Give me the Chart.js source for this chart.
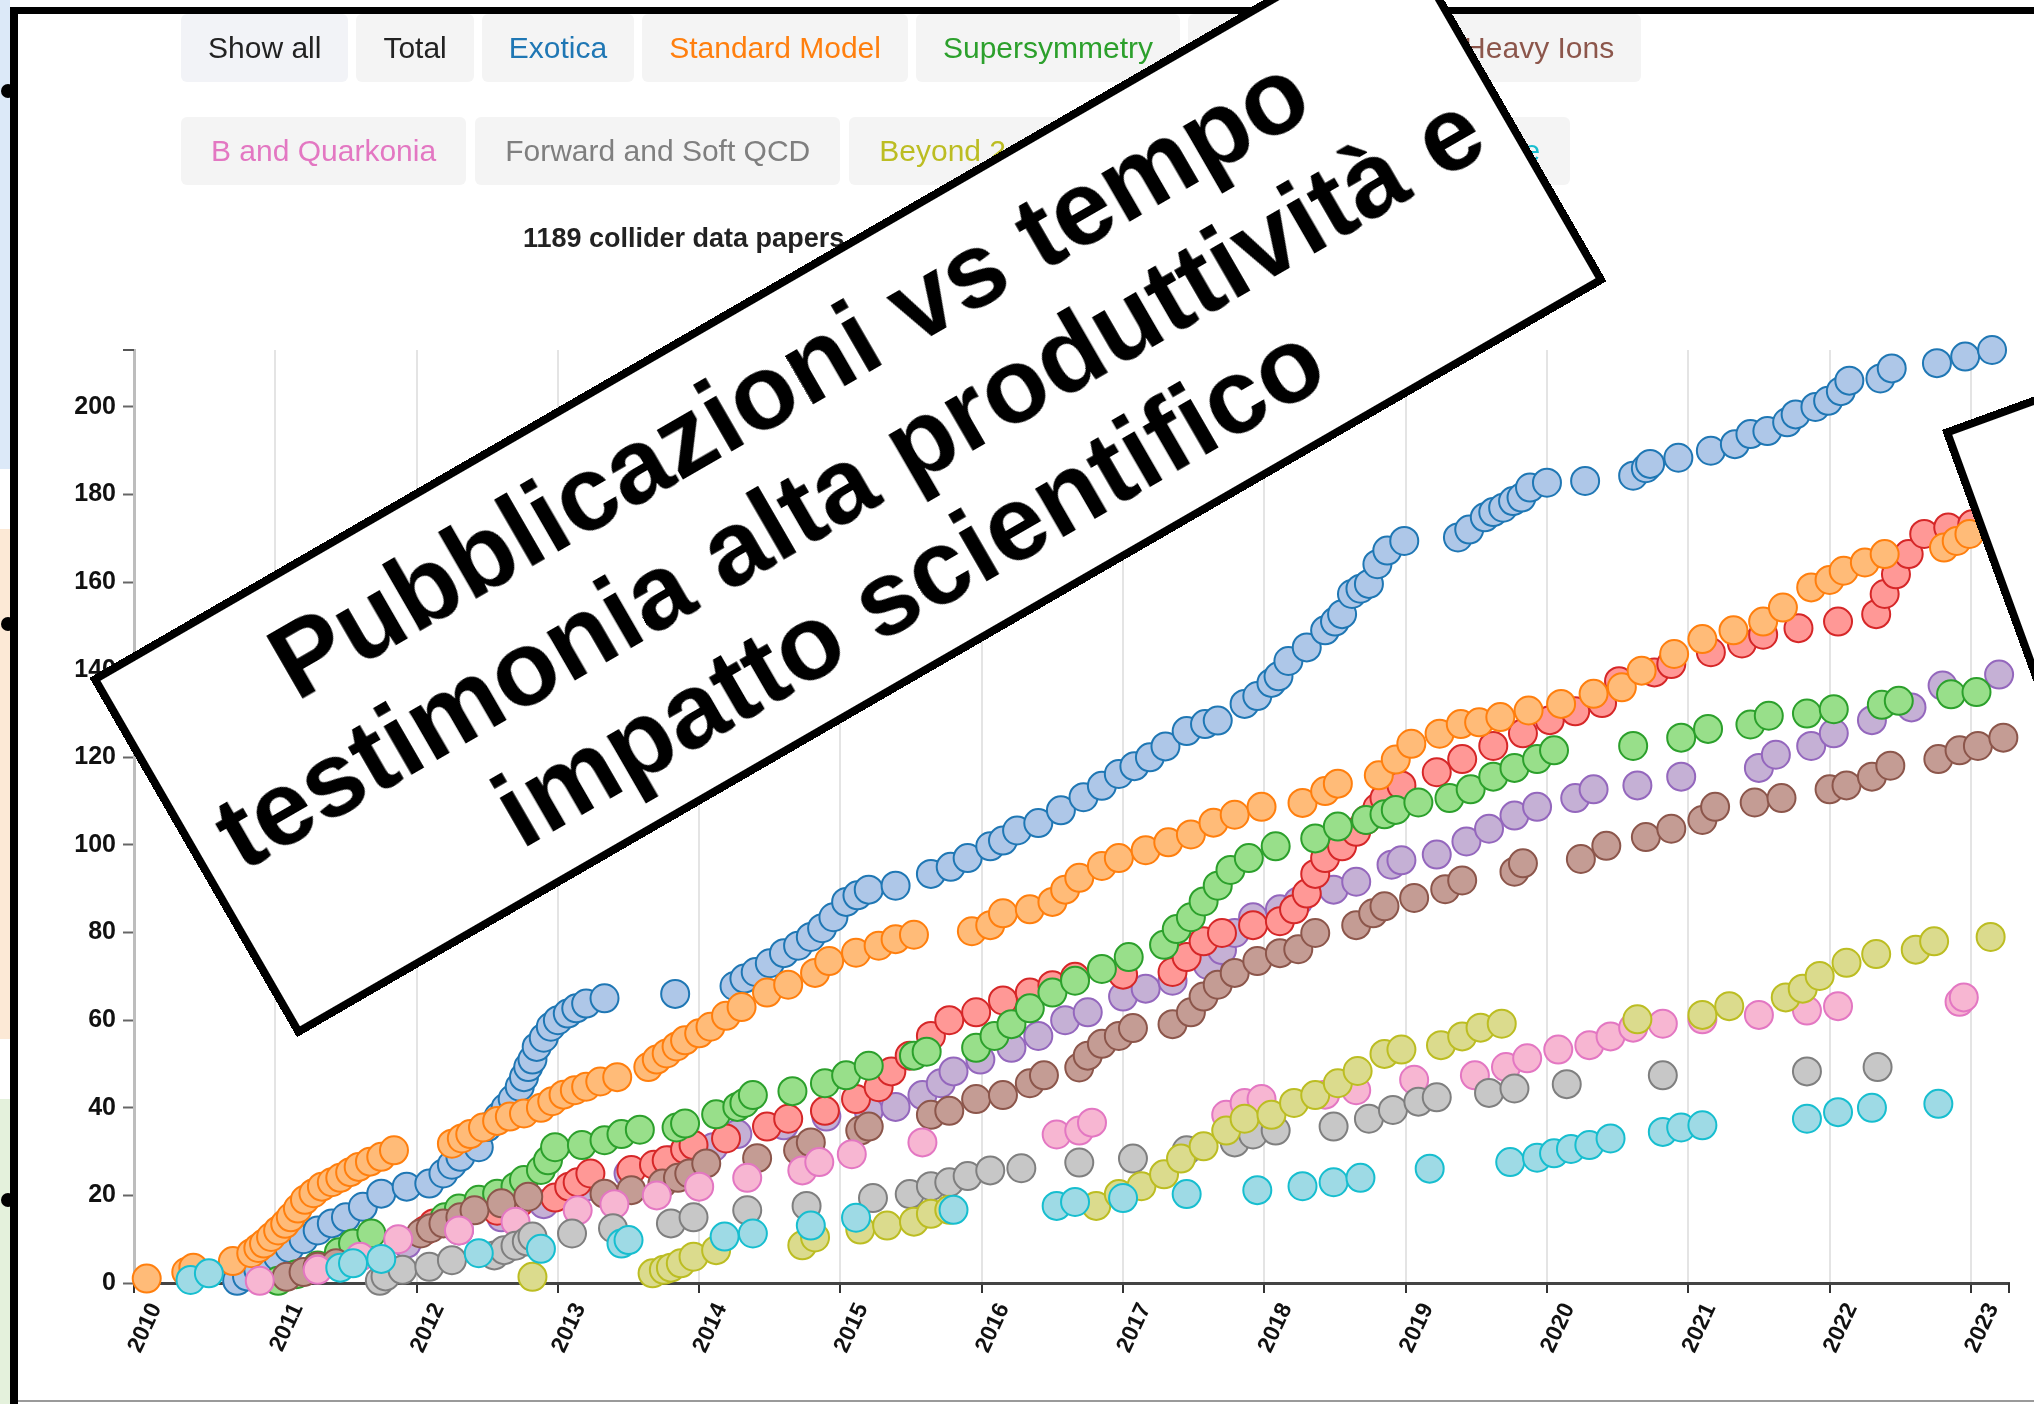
<!DOCTYPE html>
<html>
<head>
<meta charset="utf-8">
<script src="https://cdn.jsdelivr.net/npm/chart.js@4.4.0/dist/chart.umd.min.js"></script>
<style>
html,body{margin:0;padding:0;background:#fff;width:2034px;height:1404px;overflow:hidden;font-family:"Liberation Sans",Arial,Helvetica,sans-serif;}
#page{position:relative;width:2034px;height:1404px;overflow:hidden;background:#fff;}
.strip{position:absolute;left:0;width:10px;}
.dot{position:absolute;width:14px;height:14px;border-radius:50%;background:#000;z-index:6;}
.frameL{position:absolute;left:10px;top:7px;width:8px;height:1397px;background:#000;z-index:5;}
.frameT{position:absolute;left:10px;top:7px;width:2024px;height:7px;background:#000;z-index:5;}
.frameB{position:absolute;left:18px;top:1400px;width:2016px;height:2px;background:#9a9a9a;z-index:5;}
.row{position:absolute;left:181px;display:flex;gap:8px;z-index:3;}
.btn{height:68px;line-height:68px;padding:0 27px;font-size:30px;border-radius:6px;background:#f4f4f4;white-space:nowrap;}
#row2{gap:9px;}
#row2 .btn{padding:0 30px;}
#sub{position:absolute;left:523px;top:221px;font-size:27px;font-weight:bold;color:#222;line-height:34px;z-index:3;white-space:nowrap;}
#cv{position:absolute;left:0;top:0;z-index:2;}
#box1{position:absolute;left:91.5px;top:272px;width:1512px;height:415px;box-sizing:border-box;border:8px solid #000;background:#fff;
 transform:rotate(-30deg);transform-origin:50% 50%;z-index:8;display:flex;align-items:center;justify-content:center;text-align:center;
 font-weight:bold;font-size:106px;line-height:120px;color:#000;}
#box2{position:absolute;left:1942px;top:430px;width:900px;height:1300px;box-sizing:border-box;border:8px solid #000;background:#fff;
 transform:rotate(-20deg);transform-origin:0 0;z-index:8;}
</style>
</head>
<body>
<div id="page">
  <div class="strip" style="top:0;height:469px;background:#dce9f8;"></div>
  <div class="strip" style="top:529px;height:510px;background:#fce9d6;"></div>
  <div class="strip" style="top:1099px;height:305px;background:#e4f1dc;"></div>
  <div class="frameL"></div>
  <div class="frameT"></div>
  <div class="frameB"></div>
  <div class="dot" style="left:1px;top:84px;"></div>
  <div class="dot" style="left:1px;top:617px;"></div>
  <div class="dot" style="left:1px;top:1193px;"></div>
  <div class="row" id="row1" style="top:14px;"></div>
  <div class="row" id="row2" style="top:117px;"></div>
  <div id="sub">1189 collider data papers</div>
  <canvas id="cv" width="2034" height="1404"></canvas>
  <div id="box1"><div>Pubblicazioni vs tempo<br>testimonia alta produttività e<br>impatto scientifico</div></div>
  <div id="box2"></div>
</div>
<script>
// ---- categories (buttons / series) ----
const row1Labels = ["Show all", "Total", "Exotica", "Standard Model", "Supersymmetry", "Top", "Higgs", "Heavy Ions"];
const row1Colors = ["#222", "#222", "#1f77b4", "#ff7f0e", "#2ca02c", "#d62728", "#9467bd", "#8c564b"];
const row2Labels = ["B and Quarkonia", "Forward and Soft QCD", "Beyond 2 Generations", "Detector Performance"];
const row2Colors = ["#e377c2", "#7f7f7f", "#bcbd22", "#17becf"];

const seriesNames = ["Exotica", "Standard Model", "Supersymmetry", "Top", "Higgs", "Heavy Ions", "B and Quarkonia", "Forward and Soft QCD", "Beyond 2 Generations", "Detector Performance"];
const lineColors = ["#1f77b4", "#ff7f0e", "#2ca02c", "#d62728", "#9467bd", "#8c564b", "#e377c2", "#7f7f7f", "#bcbd22", "#17becf"];
const fillColors = ["#aec7e8", "#ffbb78", "#98df8a", "#ff9896", "#c5b0d5", "#c49c94", "#f7b6d2", "#c7c7c7", "#dbdb8d", "#9edae5"];

// ---- axis ticks ----
const yearTicks = [2010, 2011, 2012, 2013, 2014, 2015, 2016, 2017, 2018, 2019, 2020, 2021, 2022, 2023];
const countTicks = [0, 20, 40, 60, 80, 100, 120, 140, 160, 180, 200];
const xMin = 2010, xMax = 2023.27, yMax = 213;

// ---- series values: [date (year), cumulative papers] ----
const exotica = [[2010.73,0.5],[2010.8,1.5],[2010.88,3],[2010.95,5],[2011.02,6],[2011.1,8],[2011.2,10],[2011.3,12],[2011.4,13.6],[2011.5,15],[2011.62,17.4],[2011.75,20.4],[2011.93,22],[2012.09,22.7],[2012.19,25],[2012.25,27],[2012.31,28.8],[2012.44,31],[2012.5,35.6],[2012.58,38],[2012.63,40],[2012.68,42],[2012.73,44.8],[2012.76,47],[2012.79,49.3],[2012.82,51],[2012.85,53.9],[2012.9,56],[2012.95,58.5],[2013.0,60],[2013.07,61.5],[2013.13,62.7],[2013.2,63.8],[2013.33,65],[2013.83,66],[2014.25,67.8],[2014.32,69.5],[2014.4,71],[2014.5,73],[2014.6,75.3],[2014.7,77],[2014.79,79],[2014.87,81],[2014.95,83.5],[2015.04,87],[2015.12,88.5],[2015.2,89.8],[2015.39,90.7],[2015.64,93.4],[2015.78,95],[2015.9,97],[2016.06,99.7],[2016.15,101],[2016.25,103.3],[2016.4,105],[2016.56,107.9],[2016.72,110.9],[2016.85,113.5],[2016.97,116.2],[2017.08,118],[2017.19,120],[2017.3,122.5],[2017.45,126],[2017.58,127.6],[2017.67,128.4],[2017.86,132.2],[2017.95,134],[2018.05,137],[2018.1,138.5],[2018.17,142],[2018.3,145.1],[2018.43,149],[2018.5,151],[2018.55,152.7],[2018.62,157.3],[2018.68,158.5],[2018.74,159.6],[2018.8,164.1],[2018.87,167.2],[2018.99,169.4],[2019.37,170.2],[2019.45,172],[2019.56,174.8],[2019.62,176],[2019.69,177],[2019.76,178.5],[2019.82,179.3],[2019.88,181.6],[2020.0,182.7],[2020.27,183.1],[2020.61,184.3],[2020.7,186],[2020.73,187],[2020.93,188.4],[2021.16,190],[2021.33,191.5],[2021.44,193.8],[2021.56,194.5],[2021.7,196.5],[2021.76,198.3],[2021.9,200],[2021.99,201.4],[2022.08,203.6],[2022.14,206],[2022.36,206.5],[2022.44,208.8],[2022.76,210],[2022.96,211.5],[2023.15,213]];
const standardModel = [[2010.09,1],[2010.37,2.5],[2010.42,3.5],[2010.7,5],[2010.83,6.8],[2010.88,8],[2010.92,9],[2010.97,10.5],[2011.02,12],[2011.07,13.5],[2011.11,15],[2011.16,17],[2011.21,19],[2011.27,20.5],[2011.33,22],[2011.4,23],[2011.46,24],[2011.53,25.3],[2011.59,26.5],[2011.67,27.7],[2011.75,28.8],[2011.84,30.3],[2012.25,31.8],[2012.32,33],[2012.38,34],[2012.47,35.5],[2012.57,37],[2012.66,38],[2012.76,38.7],[2012.88,40],[2012.96,41.5],[2013.04,43],[2013.12,44],[2013.2,44.8],[2013.3,46],[2013.42,47],[2013.64,49.3],[2013.7,51],[2013.77,52.4],[2013.84,54],[2013.9,55.4],[2014.0,57],[2014.08,58.5],[2014.19,61],[2014.3,63],[2014.48,66.3],[2014.63,68.1],[2014.82,70.8],[2014.92,73.5],[2015.11,75.4],[2015.27,77],[2015.39,78.5],[2015.52,79.5],[2015.93,80.3],[2016.06,81.7],[2016.15,84.4],[2016.34,85.3],[2016.5,87],[2016.59,89.8],[2016.69,92.5],[2016.85,95.2],[2016.97,97],[2017.16,98.8],[2017.32,100.6],[2017.48,102.4],[2017.64,105.1],[2017.79,106.9],[2017.98,108.7],[2018.27,109.6],[2018.43,112.3],[2018.52,114],[2018.81,115.9],[2018.93,119.5],[2019.04,123.1],[2019.24,125.4],[2019.39,127.6],[2019.52,128],[2019.67,129.2],[2019.87,130.7],[2020.1,132.2],[2020.33,134.5],[2020.53,136],[2020.67,139.8],[2020.9,143.6],[2021.1,147],[2021.32,149],[2021.53,151],[2021.67,154.2],[2021.87,158.8],[2022.0,160.5],[2022.1,162.6],[2022.25,164.5],[2022.39,166.4],[2022.81,167.9],[2022.9,169.4],[2022.99,171]];
const supersymmetry = [[2011.02,0.5],[2011.15,2],[2011.3,4],[2011.45,7],[2011.55,9],[2011.68,11.3],[2012.2,15],[2012.3,17],[2012.44,19],[2012.57,20.4],[2012.7,22],[2012.76,23.5],[2012.88,25.8],[2012.93,28],[2012.98,31],[2013.17,31.5],[2013.33,32.6],[2013.45,34],[2013.58,35],[2013.84,35.5],[2013.9,36.4],[2014.12,38.5],[2014.27,40.2],[2014.32,41.1],[2014.38,42.9],[2014.66,43.8],[2014.89,45.6],[2015.04,47.4],[2015.2,49.6],[2015.52,51.9],[2015.61,52.8],[2015.96,53.7],[2016.09,56.4],[2016.21,59.1],[2016.34,62.7],[2016.5,66.3],[2016.66,69],[2016.85,71.7],[2017.04,74.4],[2017.29,77.2],[2017.38,80.8],[2017.48,83.5],[2017.57,87.1],[2017.67,90.7],[2017.76,94.3],[2017.89,97],[2018.08,99.7],[2018.36,101.5],[2018.52,104.2],[2018.72,105.7],[2018.85,107],[2018.93,108],[2019.09,109.7],[2019.31,110.7],[2019.46,112.7],[2019.62,115.6],[2019.77,117.6],[2019.93,119.6],[2020.05,121.6],[2020.61,122.6],[2020.95,124.5],[2021.14,126.5],[2021.44,127.5],[2021.57,129.5],[2021.84,130],[2022.03,131],[2022.37,132],[2022.49,132.9],[2022.86,134.4],[2023.04,134.9]];
const topQuark = [[2012.06,12],[2012.12,13.6],[2012.3,15],[2012.57,16.5],[2012.72,18],[2012.98,19.5],[2013.08,22],[2013.14,23],[2013.23,25],[2013.52,25.8],[2013.68,27],[2013.77,28],[2013.9,30.5],[2013.96,31.5],[2014.19,33],[2014.48,35.7],[2014.63,37.5],[2014.89,39.3],[2015.11,42],[2015.27,44.7],[2015.36,48.3],[2015.49,51.9],[2015.64,56.4],[2015.77,60],[2015.96,61.8],[2016.15,64.5],[2016.34,66.3],[2016.5,68],[2016.66,69.9],[2017.0,70.4],[2017.35,71],[2017.45,74.4],[2017.57,78],[2017.7,79.9],[2017.92,81.7],[2018.11,82.6],[2018.21,85.3],[2018.3,88.9],[2018.36,93.4],[2018.43,97],[2018.55,99.7],[2018.65,103],[2018.72,105.7],[2018.8,108.5],[2018.85,110.7],[2018.97,113.6],[2019.22,116.6],[2019.4,119.6],[2019.62,122.6],[2019.83,125.5],[2020.02,128.5],[2020.2,130.5],[2020.39,132.4],[2020.51,137.4],[2020.76,139.4],[2020.88,141.3],[2021.16,144],[2021.38,146],[2021.53,148],[2021.78,149.5],[2022.06,151],[2022.33,152.7],[2022.39,157.3],[2022.47,161.8],[2022.56,166.4],[2022.67,171],[2022.84,172.5],[2023.01,173.2]];
const higgs = [[2011.93,9],[2012.3,12],[2012.6,15],[2012.9,18],[2013.2,22],[2013.5,25],[2013.8,28],[2014.1,31],[2014.27,34],[2014.6,36],[2014.9,38],[2015.2,39.3],[2015.39,40.2],[2015.58,42.9],[2015.71,45.6],[2015.8,48.3],[2015.99,51],[2016.21,53.7],[2016.4,56.4],[2016.59,60],[2016.75,61.8],[2017.0,65.4],[2017.16,67.2],[2017.35,69],[2017.6,72.6],[2017.7,76],[2017.79,79.9],[2017.92,83.5],[2018.11,85.3],[2018.24,87.1],[2018.49,89.8],[2018.65,91.6],[2018.9,95.5],[2018.97,96.5],[2019.22,97.8],[2019.43,100.8],[2019.59,103.7],[2019.77,106.7],[2019.93,108.7],[2020.2,110.7],[2020.33,112.7],[2020.64,113.6],[2020.95,115.6],[2021.5,117.6],[2021.62,120.6],[2021.87,122.6],[2022.03,125.5],[2022.3,128.5],[2022.58,131.4],[2022.8,136.4],[2023.2,138.9]];
const heavyIons = [[2011.08,1.4],[2011.2,2.5],[2011.3,3.7],[2011.43,4.5],[2012.03,11.3],[2012.1,12.5],[2012.19,13.6],[2012.31,15],[2012.41,16.6],[2012.6,18.2],[2012.79,19.7],[2013.33,20.4],[2013.52,21.2],[2013.74,22.7],[2013.85,24],[2013.93,25],[2014.05,27.3],[2014.41,28.5],[2014.7,30.3],[2014.79,32.1],[2015.14,34.8],[2015.2,35.7],[2015.64,38.4],[2015.77,39.3],[2015.96,42],[2016.15,42.9],[2016.34,45.6],[2016.44,47.4],[2016.69,49.2],[2016.75,51.9],[2016.85,54.6],[2016.97,56.4],[2017.07,58.2],[2017.35,59.1],[2017.48,61.8],[2017.57,65.4],[2017.67,68.1],[2017.79,70.8],[2017.95,73.5],[2018.11,75.3],[2018.24,76.2],[2018.36,79.9],[2018.65,81.7],[2018.77,84.4],[2018.85,86],[2019.06,87.9],[2019.28,89.9],[2019.4,91.9],[2019.77,93.9],[2019.83,95.8],[2020.24,96.8],[2020.42,99.8],[2020.7,101.8],[2020.88,103.7],[2021.1,105.7],[2021.19,108.7],[2021.47,109.7],[2021.66,110.7],[2022.0,112.7],[2022.12,113.6],[2022.3,115.6],[2022.43,118.1],[2022.77,119.6],[2022.92,121.6],[2023.05,122.6],[2023.23,124.5]];
const bQuarkonia = [[2010.89,0.5],[2011.3,3],[2011.6,6],[2011.87,10],[2012.3,12],[2012.7,14],[2013.14,16.6],[2013.4,18],[2013.7,20],[2014.0,22],[2014.34,24],[2014.73,25.7],[2014.85,27.6],[2015.08,29.4],[2015.58,32.1],[2016.53,33.9],[2016.69,34.8],[2016.78,36.6],[2017.73,38.4],[2017.86,41.1],[2017.98,42],[2018.43,43],[2018.65,44],[2019.06,46.4],[2019.49,47.4],[2019.71,49.3],[2019.86,51.3],[2020.08,53.3],[2020.3,54.3],[2020.45,56.3],[2020.61,58.3],[2020.82,59.2],[2021.1,60.2],[2021.5,61.2],[2021.84,62.2],[2022.06,63.2],[2022.92,64.2],[2022.95,65.2]];
const forwardQCD = [[2011.74,0.5],[2011.78,1.5],[2011.9,3],[2012.09,3.7],[2012.25,5.2],[2012.55,6.3],[2012.62,7.5],[2012.7,8.5],[2012.78,9.5],[2012.82,10.6],[2013.1,11.3],[2013.39,12.5],[2013.8,13.6],[2013.96,15],[2014.34,16.6],[2014.76,17.6],[2015.23,19.4],[2015.49,20.3],[2015.64,22.1],[2015.77,23],[2015.9,24.4],[2016.06,25.7],[2016.28,26.2],[2016.69,27.5],[2017.07,28.4],[2017.45,30.3],[2017.79,32.1],[2017.92,33.9],[2018.08,34.8],[2018.49,35.7],[2018.74,37.5],[2018.91,39.5],[2019.09,41.4],[2019.22,42.4],[2019.59,43.4],[2019.77,44.4],[2020.14,45.4],[2020.82,47.4],[2021.84,48.3],[2022.34,49.3]];
const beyond2G = [[2012.82,1.4],[2013.67,2.2],[2013.75,3],[2013.8,3.5],[2013.87,4.5],[2013.96,6],[2014.12,7.5],[2014.73,8.6],[2014.82,10.4],[2015.14,12.2],[2015.33,13.1],[2015.52,14],[2015.64,15.8],[2015.77,16.7],[2016.81,17.6],[2016.97,20.3],[2017.13,22.1],[2017.29,24.8],[2017.41,28.4],[2017.57,31.2],[2017.73,34.8],[2017.86,37.5],[2018.05,38.4],[2018.21,41.1],[2018.36,42.9],[2018.52,45.6],[2018.66,48.4],[2018.85,52.3],[2018.97,53.3],[2019.25,54.3],[2019.4,56.3],[2019.53,58.3],[2019.68,59.2],[2020.64,60.2],[2021.1,61.2],[2021.29,63.2],[2021.69,65.2],[2021.81,67.2],[2021.93,70.1],[2022.12,73.1],[2022.33,75.1],[2022.61,76.1],[2022.74,78],[2023.14,79]];
const detectorPerf = [[2010.4,0.7],[2010.53,2.2],[2011.46,3.5],[2011.55,4.5],[2011.75,5.5],[2012.44,6.8],[2012.88,7.8],[2013.45,9],[2013.5,9.8],[2014.18,10.6],[2014.38,11.3],[2014.79,13.1],[2015.11,14.9],[2015.8,16.7],[2016.53,17.6],[2016.66,18.5],[2017.0,19.4],[2017.45,20.3],[2017.95,21.2],[2018.27,22.1],[2018.49,23],[2018.68,24],[2019.17,26.1],[2019.74,27.6],[2019.93,28.6],[2020.05,29.6],[2020.17,30.6],[2020.3,31.5],[2020.45,33],[2020.82,34.5],[2020.95,35.5],[2021.1,36],[2021.84,37.5],[2022.06,39],[2022.3,40],[2022.77,40.9]];

const seriesValues = [exotica, standardModel, supersymmetry, topQuark, higgs, heavyIons, bQuarkonia, forwardQCD, beyond2G, detectorPerf];
// drawing order (lower = drawn on top)
const drawOrder = [7, 6, 5, 8, 9, 4, 3, 2, 1, 0];

// ---- buttons ----
function makeRow(id, labels, colors, bgs) {
  const row = document.getElementById(id);
  labels.forEach((t, i) => {
    const b = document.createElement('div');
    b.className = 'btn';
    b.textContent = t;
    b.style.color = colors[i];
    if (bgs && bgs[i]) b.style.background = bgs[i];
    row.appendChild(b);
  });
}
makeRow('row1', row1Labels, row1Colors, ['#f2f3f7']);
makeRow('row2', row2Labels, row2Colors);

// ---- chart ----
const FONT = '"Liberation Sans", Arial, Helvetica, sans-serif';
const datasets = seriesNames.map((name, i) => ({
  label: name,
  data: seriesValues[i].map(p => ({ x: p[0], y: p[1] })),
  backgroundColor: fillColors[i],
  borderColor: lineColors[i],
  borderWidth: 2,
  pointRadius: 14,
  pointHoverRadius: 14,
  showLine: false,
  clip: false,
  order: drawOrder[i]
}));

const outerTicks = {
  id: 'outerTicks',
  afterDraw(chart) {
    const ctx = chart.ctx, xs = chart.scales.x, ys = chart.scales.y;
    ctx.save();
    ctx.strokeStyle = '#555';
    ctx.lineWidth = 2;
    const yTop = ys.getPixelForValue(yMax);
    ctx.beginPath();
    ctx.moveTo(xs.left - 11, yTop);
    ctx.lineTo(xs.left, yTop);
    ctx.stroke();
    ctx.strokeStyle = '#333';
    const xEnd = xs.getPixelForValue(xMax);
    ctx.beginPath();
    ctx.moveTo(xEnd, ys.bottom);
    ctx.lineTo(xEnd, ys.bottom + 10);
    ctx.stroke();
    ctx.restore();
  }
};

new Chart(document.getElementById('cv').getContext('2d'), {
  type: 'scatter',
  data: { datasets },
  plugins: [outerTicks],
  options: {
    responsive: false,
    animation: false,
    devicePixelRatio: 1,
    layout: { padding: { left: 0, top: 350, right: 25, bottom: 0 }, autoPadding: false },
    plugins: { legend: { display: false }, tooltip: { enabled: false } },
    scales: {
      x: {
        type: 'linear',
        min: xMin, max: xMax,
        afterFit: s => { s.height = 121; },
        afterBuildTicks: s => { s.ticks = yearTicks.map(v => ({ value: v })); },
        ticks: {
          autoSkip: false, maxRotation: 65, minRotation: 65,
          color: '#111', padding: 6, labelOffset: 22,
          font: { family: FONT, size: 23, weight: 'bold' },
          callback: v => String(v)
        },
        grid: { color: '#e4e4e4', lineWidth: 2, drawTicks: true, tickLength: 10, tickColor: '#333', tickWidth: 2 },
        border: { display: true, color: '#444', width: 3 }
      },
      y: {
        type: 'linear',
        min: 0, max: yMax,
        afterFit: s => { s.width = 134; },
        afterBuildTicks: s => { s.ticks = countTicks.map(v => ({ value: v })); },
        ticks: {
          color: '#111', padding: 7,
          font: { family: FONT, size: 25, weight: 'bold' },
          callback: v => String(v)
        },
        grid: { drawOnChartArea: false, drawTicks: true, tickLength: 11, tickColor: '#666', tickWidth: 2 },
        border: { display: true, color: '#bdbdbd', width: 3 }
      }
    }
  }
});
</script>
</body>
</html>
